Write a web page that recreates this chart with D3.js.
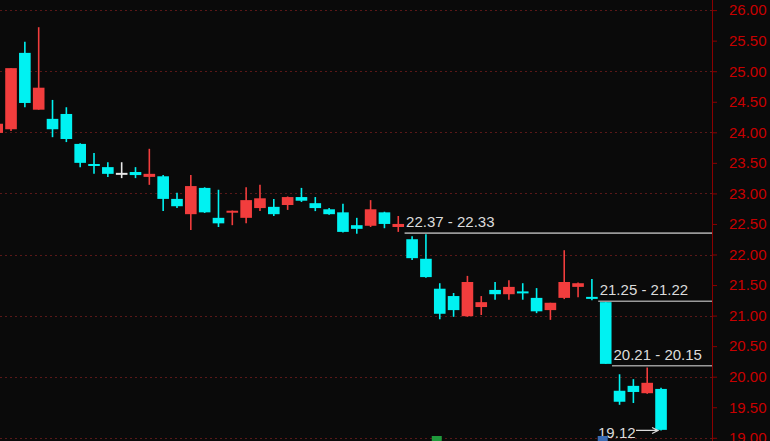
<!DOCTYPE html>
<html>
<head>
<meta charset="utf-8">
<script src="https://cdn.jsdelivr.net/npm/d3@7/dist/d3.min.js"></script>
<style>
  html, body { margin: 0; padding: 0; background: #0a0a0a; }
  svg { display: block; }
  .axis text { font-family: "Liberation Sans", Arial, sans-serif; }
</style>
</head>
<body>
<div id="chart"></div>
<script>
// daily candles (oldest first, first one is cut by the left edge)
const opens  = [23.99, 24.05, 25.30, 24.37, 24.22, 24.30, 23.81, 23.48, 23.43, 23.32, 23.35, 23.27, 23.28, 22.91, 22.66, 23.09, 22.60, 22.69, 22.60, 22.76, 22.78, 22.81, 22.94, 22.84, 22.74, 22.69, 22.48, 22.47, 22.69, 22.45, 22.25, 21.93, 21.44, 21.32, 20.99, 21.14, 21.42, 21.35, 21.39, 21.29, 21.09, 21.29, 21.47, 21.30, 21.22, 19.77, 19.85, 19.73, 19.80];
const highs  = [24.16, 25.05, 25.48, 25.72, 24.53, 24.41, 23.82, 23.66, 23.51, 23.51, 23.43, 23.73, 23.30, 23.01, 23.30, 23.10, 23.06, 22.72, 23.10, 23.14, 22.91, 22.95, 23.09, 22.94, 22.76, 22.83, 22.60, 22.89, 22.70, 22.63, 22.30, 22.33, 21.53, 21.37, 21.65, 21.32, 21.55, 21.58, 21.53, 21.45, 21.21, 22.07, 21.54, 21.60, 21.22, 20.04, 19.96, 20.15, 19.82];
const lows   = [23.97, 24.02, 24.41, 24.37, 23.92, 23.84, 23.43, 23.32, 23.27, 23.25, 23.25, 23.14, 22.71, 22.76, 22.40, 22.68, 22.45, 22.48, 22.51, 22.71, 22.63, 22.73, 22.86, 22.71, 22.65, 22.36, 22.34, 22.45, 22.43, 22.37, 21.91, 21.62, 20.94, 20.98, 20.98, 21.01, 21.26, 21.26, 21.26, 21.04, 20.93, 21.27, 21.30, 21.25, 20.21, 19.54, 19.57, 19.72, 19.12];
const closes = [24.14, 25.05, 24.48, 24.73, 24.05, 23.89, 23.50, 23.45, 23.32, 23.32, 23.30, 23.32, 22.91, 22.79, 23.12, 22.69, 22.51, 22.71, 22.89, 22.92, 22.66, 22.94, 22.88, 22.76, 22.66, 22.37, 22.42, 22.74, 22.50, 22.50, 21.94, 21.63, 21.03, 21.09, 21.55, 21.22, 21.35, 21.47, 21.37, 21.07, 21.21, 21.55, 21.53, 21.28, 20.21, 19.59, 19.75, 19.90, 19.13];

const yTicks = [19, 19.5, 20, 20.5, 21, 21.5, 22, 22.5, 23, 23.5, 24, 24.5, 25, 25.5, 26];
const gridValues = [19, 20, 21, 22, 23, 24, 25, 26];

// unfilled gaps: top, bottom, candle the gap starts after
const gapTop    = [22.37, 21.25, 20.21];
const gapBottom = [22.33, 21.22, 20.15];
const gapAfter  = [29, 43, 44];

// lowest price marker
const lowMark = { index: 48, value: 19.12 };

// bits of signal icons peeking in at the bottom edge
const signalIdx = [32, 44];
const signalColor = ["#1f9a3c", "#3b6cb3"];

const W = 770, H = 441;
const axisX = 712;
const C = { up: "#f23d3d", down: "#00f2f2", flat: "#e8e8e8", axis: "#8a0000", label: "#c80000", grid: "#5a1818", note: "#dcdcdc", gapLine: "#9a9a9a" };
const font = '"Liberation Sans", Arial, sans-serif';

const candles = opens.map((o, i) => ({ i, o, h: highs[i], l: lows[i], c: closes[i] }));

const step = 13.83;
const x = d3.scaleBand().domain(candles.map(d => d.i))
  .range([-2.8 - step / 2, -2.8 - step / 2 + step * candles.length])
  .paddingInner(0.16).paddingOuter(0.08);
const y = d3.scaleLinear().domain([19, 26]).range([437.8, 10.1]);
const cx = i => x(i) + x.bandwidth() / 2;
const col = d => d.c > d.o ? C.up : d.c < d.o ? C.down : C.flat;

const svg = d3.select("#chart").append("svg").attr("width", W).attr("height", H)
  .style("background", "#0a0a0a");

// dotted grid
svg.append("g").selectAll("line").data(gridValues).join("line")
  .attr("x1", 0).attr("x2", axisX)
  .attr("y1", d => Math.round(y(d)) + 0.5).attr("y2", d => Math.round(y(d)) + 0.5)
  .attr("stroke", C.grid).attr("stroke-width", 1).attr("stroke-dasharray", "2 3");

// gap lines
svg.append("g").selectAll("line").data(gapTop).join("line")
  .attr("x1", (d, k) => x(gapAfter[k]) + x.bandwidth() + 0.5).attr("x2", axisX)
  .attr("y1", (d, k) => y((d + gapBottom[k]) / 2)).attr("y2", (d, k) => y((d + gapBottom[k]) / 2))
  .attr("stroke", C.gapLine).attr("stroke-width", 1.6);

// candles
const cg = svg.append("g");
cg.selectAll(".wick").data(candles).join("line").attr("class", "wick")
  .attr("x1", d => cx(d.i)).attr("x2", d => cx(d.i))
  .attr("y1", d => y(d.h)).attr("y2", d => y(d.l))
  .attr("stroke", col).attr("stroke-width", 1.6);
cg.selectAll(".body").data(candles).join("rect").attr("class", "body")
  .attr("x", d => x(d.i)).attr("width", x.bandwidth())
  .attr("y", d => {
    const t = y(Math.max(d.o, d.c)), b = y(Math.min(d.o, d.c));
    return b - t < 2 ? (t + b) / 2 - 1 : t;
  })
  .attr("height", d => Math.max(2, y(Math.min(d.o, d.c)) - y(Math.max(d.o, d.c))))
  .attr("fill", col);

// gap labels
svg.append("g").selectAll("text").data(gapTop).join("text")
  .attr("x", (d, k) => x(gapAfter[k]) + x.bandwidth() + 2)
  .attr("y", (d, k) => y((d + gapBottom[k]) / 2) - 6)
  .attr("fill", C.note).style("font-family", font).style("font-size", "15px")
  .text((d, k) => `${d3.format(".2f")(d)} - ${d3.format(".2f")(gapBottom[k])}`);

// lowest price note with arrow
const ax2 = cx(lowMark.index) - 3, ay = y(lowMark.value);
const note = svg.append("g");
note.append("text").attr("x", ax2 - 60).attr("y", ay + 8)
  .attr("fill", C.note).style("font-family", font).style("font-size", "15px")
  .text(d3.format(".2f")(lowMark.value));
note.append("path")
  .attr("d", `M${ax2 - 22},${ay} L${ax2},${ay} M${ax2 - 6},${ay - 3} L${ax2},${ay} L${ax2 - 6},${ay + 3}`)
  .attr("stroke", C.note).attr("stroke-width", 1.2).attr("fill", "none");

// signal icons cut by the bottom edge
svg.append("g").selectAll("rect").data(signalIdx).join("rect")
  .attr("x", (d, k) => cx(d) - 6 + (k === 0 ? -2 : -2)).attr("width", 10)
  .attr("y", H - 5).attr("height", 5)
  .attr("fill", (d, k) => signalColor[k]);

// price axis
const axis = svg.append("g").attr("class", "axis").attr("transform", `translate(${axisX},0)`)
  .call(d3.axisRight(y).tickValues(yTicks).tickSize(5).tickPadding(12).tickFormat(d3.format(".2f")));
axis.select(".domain").attr("stroke", C.axis).attr("d", `M0.5,0V${H}`);
axis.selectAll(".tick line").attr("stroke", C.axis);
axis.selectAll(".tick text").attr("fill", C.label).style("font-size", "15px");
</script>
</body>
</html>
